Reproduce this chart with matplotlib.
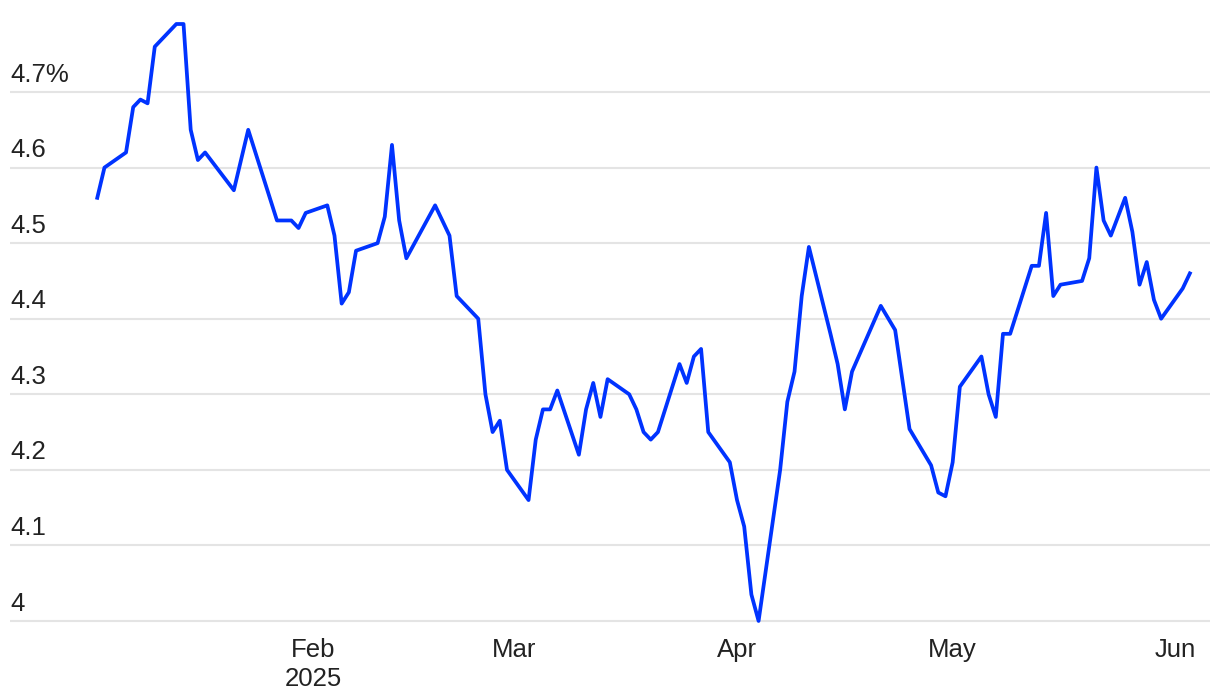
import matplotlib
matplotlib.use("Agg")
import matplotlib.pyplot as plt
import matplotlib.dates as mdates
import matplotlib.transforms as mtransforms

# 10-year yield, daily
dates = [
    "2025-01-02", "2025-01-03", "2025-01-06", "2025-01-07", "2025-01-08", "2025-01-09",
    "2025-01-10", "2025-01-13", "2025-01-14", "2025-01-15", "2025-01-16", "2025-01-17",
    "2025-01-21", "2025-01-22", "2025-01-23", "2025-01-27", "2025-01-29", "2025-01-30",
    "2025-01-31", "2025-02-03", "2025-02-04", "2025-02-05", "2025-02-06", "2025-02-07",
    "2025-02-10", "2025-02-11", "2025-02-12", "2025-02-13", "2025-02-14", "2025-02-18",
    "2025-02-19", "2025-02-20", "2025-02-21", "2025-02-24", "2025-02-25", "2025-02-26",
    "2025-02-27", "2025-02-28", "2025-03-03", "2025-03-04", "2025-03-05", "2025-03-06",
    "2025-03-07", "2025-03-10", "2025-03-11", "2025-03-12", "2025-03-13", "2025-03-14",
    "2025-03-17", "2025-03-18", "2025-03-19", "2025-03-20", "2025-03-21", "2025-03-24",
    "2025-03-25", "2025-03-26", "2025-03-27", "2025-03-28", "2025-03-31", "2025-04-01",
    "2025-04-02", "2025-04-03", "2025-04-04", "2025-04-07", "2025-04-08", "2025-04-09",
    "2025-04-10", "2025-04-11", "2025-04-14", "2025-04-15", "2025-04-16", "2025-04-17",
    "2025-04-21", "2025-04-23", "2025-04-25", "2025-04-28", "2025-04-29", "2025-04-30",
    "2025-05-01", "2025-05-02", "2025-05-05", "2025-05-06", "2025-05-07", "2025-05-08",
    "2025-05-09", "2025-05-12", "2025-05-13", "2025-05-14", "2025-05-15", "2025-05-16",
    "2025-05-19", "2025-05-20", "2025-05-21", "2025-05-22", "2025-05-23", "2025-05-25",
    "2025-05-26", "2025-05-27", "2025-05-28", "2025-05-29", "2025-05-30", "2025-06-02",
    "2025-06-03",
]
yields = [
    4.56, 4.60, 4.62, 4.68, 4.69, 4.685,
    4.76, 4.79, 4.79, 4.65, 4.61, 4.62,
    4.57, 4.61, 4.65, 4.53, 4.53, 4.52,
    4.54, 4.55, 4.51, 4.42, 4.435, 4.49,
    4.50, 4.535, 4.63, 4.53, 4.48, 4.55,
    4.53, 4.51, 4.43, 4.40, 4.30, 4.25,
    4.265, 4.20, 4.16, 4.24, 4.28, 4.28,
    4.305, 4.22, 4.28, 4.315, 4.27, 4.32,
    4.30, 4.28, 4.25, 4.24, 4.25, 4.34,
    4.315, 4.35, 4.36, 4.25, 4.21, 4.16,
    4.125, 4.035, 4.00, 4.20, 4.29, 4.33,
    4.43, 4.495, 4.38, 4.34, 4.28, 4.33,
    4.417, 4.385, 4.254, 4.206, 4.17, 4.165,
    4.21, 4.31, 4.35, 4.30, 4.27, 4.38,
    4.38, 4.47, 4.47, 4.54, 4.43, 4.445,
    4.45, 4.48, 4.60, 4.53, 4.51, 4.56,
    4.515, 4.445, 4.475, 4.425, 4.40, 4.44,
    4.46,
]

y_ticks = [4.0, 4.1, 4.2, 4.3, 4.4, 4.5, 4.6, 4.7]
y_labels = ["4", "4.1", "4.2", "4.3", "4.4", "4.5", "4.6", "4.7%"]
x_ticks = ["2025-02-01", "2025-03-01", "2025-04-01", "2025-05-01", "2025-06-01"]
x_labels = ["Feb\n2025", "Mar", "Apr", "May", "Jun"]

plt.rcParams['font.family'] = ['Liberation Sans', 'DejaVu Sans']

x = mdates.datestr2num(dates)
jan1 = mdates.datestr2num("2025-01-01")

fig = plt.figure(figsize=(12.2, 7), dpi=100)
ax = fig.add_axes([10/1220, 0.0967, 1200/1220, 0.8906])

ax.plot(x, yields, color='#0033ff', linewidth=2.7, zorder=3)

ax.set_xlim(jan1 - 11.14, jan1 + 155.8)
ax.set_ylim(3.985, 4.81)

for s in ax.spines.values():
    s.set_visible(False)

ax.set_yticks(y_ticks)
ax.grid(axis='y', color='#e4e4e4', linewidth=1.5, zorder=1)
ax.tick_params(axis='y', length=0, labelleft=False)

ax.set_xticks(mdates.datestr2num(x_ticks))
ax.set_xticklabels(x_labels, fontsize=18.5, color='#222222', linespacing=1.25)
ax.tick_params(axis='x', length=0, pad=4)

# y labels sit on top of their gridlines, flush left
trans = mtransforms.blended_transform_factory(ax.transAxes, ax.transData)
for v, lab in zip(y_ticks, y_labels):
    ax.annotate(lab, xy=(0, v), xycoords=trans, xytext=(0, 7.5),
                textcoords='offset points', ha='left', va='baseline',
                fontsize=18.5, color='#222222')

fig.savefig("out.png", dpi=100)
